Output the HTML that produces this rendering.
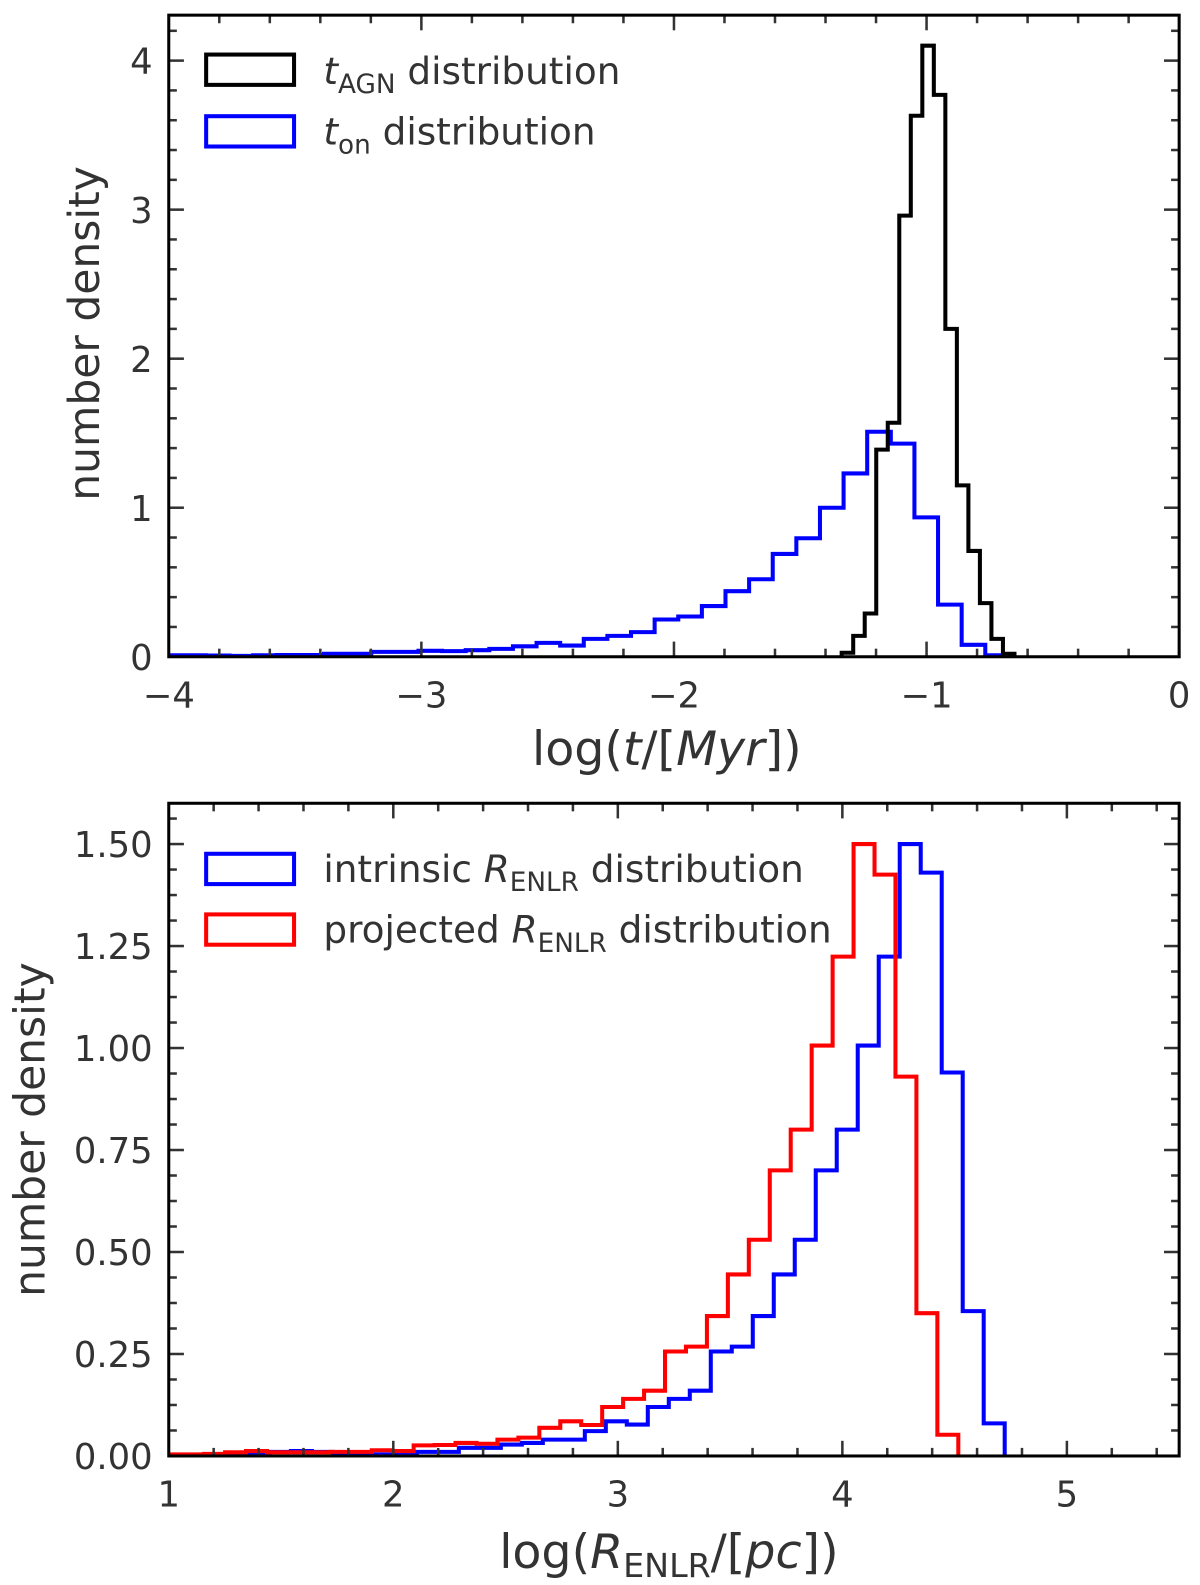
<!DOCTYPE html>
<html><head><meta charset="utf-8"><style>
html,body{margin:0;padding:0;background:#fff;}
svg{display:block;font-family:"DejaVu Sans","Liberation Sans",sans-serif;}
</style></head><body>
<svg id="fig" width="1200" height="1585" viewBox="0 0 1187.6 1568.7" xmlns="http://www.w3.org/2000/svg" style="position:absolute;left:0;top:0"></svg>
<script>
// ---- Top panel data ----
const topXTicks = [-4, -3, -2, -1, 0];
const topYTicks = [0, 1, 2, 3, 4];
const tonStart = -4.04, tonWidth = 0.0935;
const tonValues = [0.01,0.01,0.008,0.006,0.01,0.012,0.012,0.02,0.02,0.033,0.033,0.04,0.038,0.044,0.053,0.07,0.093,0.075,0.12,0.14,0.165,0.25,0.27,0.34,0.44,0.52,0.69,0.795,1.0,1.23,1.51,1.43,0.935,0.35,0.08,0.01];
const tagnStart = -1.336, tagnWidth = 0.0456;
const tagnValues = [0.027,0.14,0.29,1.39,1.57,2.96,3.63,4.10,3.77,2.20,1.15,0.71,0.36,0.12,0.02];
// ---- Bottom panel data ----
const botXTicks = [1, 2, 3, 4, 5];
const botYTicks = [0, 0.25, 0.5, 0.75, 1.0, 1.25, 1.5];
const botYTickLabels = ["0.00","0.25","0.50","0.75","1.00","1.25","1.50"];
const intrStart = 0.983, intrWidth = 0.0935;
const intrValues = [0.003,0.003,0.004,0.004,0.006,0.01,0.012,0.01,0.006,0.004,0.004,0.003,0.01,0.01,0.02,0.02,0.028,0.032,0.04,0.04,0.061,0.085,0.077,0.12,0.14,0.16,0.256,0.268,0.343,0.445,0.53,0.70,0.80,1.006,1.224,1.50,1.43,0.94,0.355,0.08];
const projStart = 0.971, projWidth = 0.0933;
const projValues = [0.004,0.004,0.005,0.009,0.012,0.009,0.009,0.009,0.01,0.01,0.014,0.012,0.026,0.027,0.032,0.03,0.04,0.045,0.069,0.085,0.076,0.12,0.14,0.16,0.256,0.268,0.343,0.445,0.53,0.70,0.80,1.006,1.224,1.50,1.425,0.93,0.35,0.052];

const NS = "http://www.w3.org/2000/svg";
const svg = document.getElementById('fig');
function mk(tag, attrs, parent){
  const e = document.createElementNS(NS, tag);
  for (const k in attrs) e.setAttribute(k, attrs[k]);
  (parent||svg).appendChild(e);
  return e;
}

function panel(cfg){
  const g = mk('g', {});
  
  
  const L=cfg.left,R=cfg.right,T=cfg.top,B=cfg.bottom;
  const sx = v => L + (v - cfg.xmin)/(cfg.xmax-cfg.xmin)*(R-L);
  const sy = v => B - (v - cfg.ymin)/(cfg.ymax-cfg.ymin)*(B-T);
  const clip = mk('clipPath', {id: cfg.name+'-clip'}, g);
  mk('rect', {x:L, y:T, width:R-L, height:B-T}, clip);
  cfg.series.forEach(s => {
    let d = 'M' + sx(s.start) + ' ' + sy(0);
    s.values.forEach((v,i) => {
      const a = s.start + i*s.width, b = s.start + (i+1)*s.width;
      d += ' L' + sx(a) + ' ' + sy(v) + ' L' + sx(b) + ' ' + sy(v);
    });
    d += ' L' + sx(s.start + s.values.length*s.width) + ' ' + sy(0);
    const p = mk('path', {d:d, fill:'none', stroke:s.color, 'stroke-width':4, 'stroke-linejoin':'miter', 'clip-path':'url(#'+cfg.name+'-clip)'}, g);
    
    
  });
  const tk = mk('g', {stroke:'#333', 'stroke-width':2.5}, g);
  
  
  for (let v = cfg.xmin; v <= cfg.xmax + 1e-9; v += cfg.xminor) {
    const isMaj = cfg.xticks.some(t => Math.abs(t - v) < 1e-6);
    const len = isMaj ? 15 : 8, x = sx(v);
    mk('line', {x1:x, x2:x, y1:B, y2:B-len}, tk);
    mk('line', {x1:x, x2:x, y1:T, y2:T+len}, tk);
  }
  for (let v = cfg.ymin; v <= cfg.ymax + 1e-9; v += cfg.yminor) {
    const isMaj = cfg.yticks.some(t => Math.abs(t - v) < 1e-6);
    const len = isMaj ? 15 : 8, y = sy(v);
    mk('line', {x1:L, x2:L+len, y1:y, y2:y}, tk);
    mk('line', {x1:R, x2:R-len, y1:y, y2:y}, tk);
  }
  const fr = mk('rect', {x:L, y:T, width:R-L, height:B-T, fill:'none', stroke:'#000', 'stroke-width':3}, g);
  
  
  cfg.xticks.forEach((v,i) => {
    const t = mk('text', {x:sx(v), y:B+50, 'text-anchor':'middle', 'font-size':35, fill:'#333'}, g);
    t.textContent = cfg.xlabels[i];
    
    
  });
  cfg.yticks.forEach((v,i) => {
    const t = mk('text', {x:L-16, y:sy(v)+13, 'text-anchor':'end', 'font-size':35, fill:'#333'}, g);
    t.textContent = cfg.ylabels[i];
    
    
  });
  return g;
}

panel({name:'top-panel', left:167, right:1167, top:15, bottom:650,
  xmin:-4, xmax:0, ymin:0, ymax:4.305, xminor:0.2, yminor:0.2,
  xticks:topXTicks, yticks:topYTicks,
  xlabels:topXTicks.map(v => v<0 ? '\u2212'+Math.abs(v) : String(v)),
  ylabels:topYTicks.map(String),
  series:[{name:'ton-histogram', color:'#0000ff', start:tonStart, width:tonWidth, values:tonValues},
          {name:'tagn-histogram', color:'#000000', start:tagnStart, width:tagnWidth, values:tagnValues}]});

panel({name:'bottom-panel', left:167, right:1167, top:795, bottom:1441,
  xmin:1, xmax:5.5, ymin:0, ymax:1.6, xminor:0.2, yminor:0.0625,
  xticks:botXTicks, yticks:botYTicks,
  xlabels:botXTicks.map(String), ylabels:botYTickLabels,
  series:[{name:'intrinsic-histogram', color:'#0000ff', start:intrStart, width:intrWidth, values:intrValues},
          {name:'projected-histogram', color:'#ff0000', start:projStart, width:projWidth, values:projValues}]});
</script>
<svg width="1200" height="1585" viewBox="0 0 1187.6 1568.7" style="position:absolute;left:0;top:0" xmlns="http://www.w3.org/2000/svg">
  <g font-family="DejaVu Sans, Liberation Sans, sans-serif" fill="#333">
    <g>
      <rect x="204" y="54" width="87" height="30" fill="none" stroke="#000" stroke-width="4"/>
      <text x="320" y="83" font-size="37"><tspan font-style="italic">t</tspan><tspan font-size="26" dy="9">AGN</tspan><tspan dy="-9"> distribution</tspan></text>
      <rect x="204" y="115" width="87" height="30" fill="none" stroke="#0000ff" stroke-width="4"/>
      <text x="320" y="143" font-size="37"><tspan font-style="italic">t</tspan><tspan font-size="26" dy="9">on</tspan><tspan dy="-9"> distribution</tspan></text>
    </g>
    <text x="660" y="757" font-size="47" text-anchor="middle">log(<tspan font-style="italic">t</tspan>/[<tspan font-style="italic">Myr</tspan>])</text>
    <text transform="translate(98,330) rotate(-90)" font-size="42" text-anchor="middle">number density</text>
    <g>
      <rect x="204" y="845" width="87" height="30" fill="none" stroke="#0000ff" stroke-width="4"/>
      <text x="320" y="873" font-size="37">intrinsic <tspan font-style="italic">R</tspan><tspan font-size="26" dy="9">ENLR</tspan><tspan dy="-9"> distribution</tspan></text>
      <rect x="204" y="905" width="87" height="30" fill="none" stroke="#ff0000" stroke-width="4"/>
      <text x="320" y="933" font-size="37">projected <tspan font-style="italic">R</tspan><tspan font-size="26" dy="9">ENLR</tspan><tspan dy="-9"> distribution</tspan></text>
    </g>
    <text x="662" y="1552" font-size="47" text-anchor="middle">log(<tspan font-style="italic">R</tspan><tspan font-size="33" dy="9">ENLR</tspan><tspan dy="-9">/[</tspan><tspan font-style="italic">pc</tspan>])</text>
    <text transform="translate(44,1118) rotate(-90)" font-size="42" text-anchor="middle">number density</text>
  </g>
</svg>
</body></html>
